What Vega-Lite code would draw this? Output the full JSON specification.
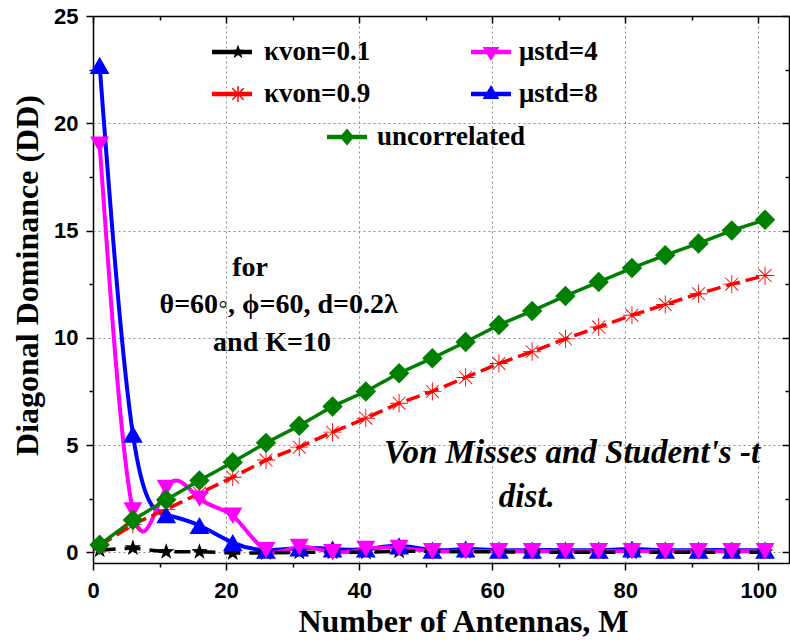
{
  "$schema": "https://vega.github.io/schema/vega-lite/v6.json",
  "width": 696,
  "height": 547,
  "autosize": {"type": "none"},
  "padding": {"left": 93, "top": 16, "right": 1, "bottom": 77},
  "background": "white",
  "config": {"view": {"stroke": null}},
  "datasets": {
    "curves": [
      {"series":"κvon=0.1","M":1,"DD":0.1},{"series":"κvon=0.1","M":6,"DD":0.2},{"series":"κvon=0.1","M":11,"DD":0.02},{"series":"κvon=0.1","M":16,"DD":0.02},{"series":"κvon=0.1","M":21,"DD":-0.03},{"series":"κvon=0.1","M":26,"DD":-0.03},{"series":"κvon=0.1","M":31,"DD":0},{"series":"κvon=0.1","M":36,"DD":0},{"series":"κvon=0.1","M":41,"DD":0},{"series":"κvon=0.1","M":46,"DD":0.05},{"series":"κvon=0.1","M":51,"DD":0.05},{"series":"κvon=0.1","M":56,"DD":0.02},{"series":"κvon=0.1","M":61,"DD":0.02},{"series":"κvon=0.1","M":66,"DD":0},{"series":"κvon=0.1","M":71,"DD":0},{"series":"κvon=0.1","M":76,"DD":0},{"series":"κvon=0.1","M":81,"DD":0},{"series":"κvon=0.1","M":86,"DD":0},{"series":"κvon=0.1","M":91,"DD":0},{"series":"κvon=0.1","M":96,"DD":0},{"series":"κvon=0.1","M":101,"DD":0},
      {"series":"κvon=0.9","M":1,"DD":0.3},{"series":"κvon=0.9","M":6,"DD":1.3},{"series":"κvon=0.9","M":11,"DD":2.0},{"series":"κvon=0.9","M":16,"DD":2.75},{"series":"κvon=0.9","M":21,"DD":3.5},{"series":"κvon=0.9","M":26,"DD":4.3},{"series":"κvon=0.9","M":31,"DD":4.9},{"series":"κvon=0.9","M":36,"DD":5.6},{"series":"κvon=0.9","M":41,"DD":6.25},{"series":"κvon=0.9","M":46,"DD":6.95},{"series":"κvon=0.9","M":51,"DD":7.5},{"series":"κvon=0.9","M":56,"DD":8.15},{"series":"κvon=0.9","M":61,"DD":8.8},{"series":"κvon=0.9","M":66,"DD":9.35},{"series":"κvon=0.9","M":71,"DD":9.95},{"series":"κvon=0.9","M":76,"DD":10.5},{"series":"κvon=0.9","M":81,"DD":11.05},{"series":"κvon=0.9","M":86,"DD":11.55},{"series":"κvon=0.9","M":91,"DD":12.05},{"series":"κvon=0.9","M":96,"DD":12.5},{"series":"κvon=0.9","M":101,"DD":12.9},
      {"series":"μstd=8","M":1,"DD":22.7},{"series":"μstd=8","M":6,"DD":5.5},{"series":"μstd=8","M":11,"DD":1.75},{"series":"μstd=8","M":16,"DD":1.25},{"series":"μstd=8","M":21,"DD":0.45},{"series":"μstd=8","M":26,"DD":0.1},{"series":"μstd=8","M":31,"DD":0.2},{"series":"μstd=8","M":36,"DD":0.15},{"series":"μstd=8","M":41,"DD":0.15},{"series":"μstd=8","M":46,"DD":0.3},{"series":"μstd=8","M":51,"DD":0.1},{"series":"μstd=8","M":56,"DD":0.15},{"series":"μstd=8","M":61,"DD":0.1},{"series":"μstd=8","M":66,"DD":0.1},{"series":"μstd=8","M":71,"DD":0.1},{"series":"μstd=8","M":76,"DD":0.1},{"series":"μstd=8","M":81,"DD":0.15},{"series":"μstd=8","M":86,"DD":0.1},{"series":"μstd=8","M":91,"DD":0.1},{"series":"μstd=8","M":96,"DD":0.1},{"series":"μstd=8","M":101,"DD":0.1},
      {"series":"μstd=4","M":1,"DD":19.0},{"series":"μstd=4","M":6,"DD":1.95},{"series":"μstd=4","M":11,"DD":3.0},{"series":"μstd=4","M":16,"DD":2.5},{"series":"μstd=4","M":21,"DD":1.7},{"series":"μstd=4","M":26,"DD":0.1},{"series":"μstd=4","M":31,"DD":0.25},{"series":"μstd=4","M":36,"DD":0.0},{"series":"μstd=4","M":41,"DD":0.15},{"series":"μstd=4","M":46,"DD":0.2},{"series":"μstd=4","M":51,"DD":0.05},{"series":"μstd=4","M":56,"DD":0.05},{"series":"μstd=4","M":61,"DD":0.05},{"series":"μstd=4","M":66,"DD":0.05},{"series":"μstd=4","M":71,"DD":0.05},{"series":"μstd=4","M":76,"DD":0.05},{"series":"μstd=4","M":81,"DD":0.05},{"series":"μstd=4","M":86,"DD":0.05},{"series":"μstd=4","M":91,"DD":0.05},{"series":"μstd=4","M":96,"DD":0.05},{"series":"μstd=4","M":101,"DD":0.05},
      {"series":"uncorrelated","M":1,"DD":0.35},{"series":"uncorrelated","M":6,"DD":1.5},{"series":"uncorrelated","M":11,"DD":2.45},{"series":"uncorrelated","M":16,"DD":3.35},{"series":"uncorrelated","M":21,"DD":4.2},{"series":"uncorrelated","M":26,"DD":5.1},{"series":"uncorrelated","M":31,"DD":5.9},{"series":"uncorrelated","M":36,"DD":6.8},{"series":"uncorrelated","M":41,"DD":7.5},{"series":"uncorrelated","M":46,"DD":8.35},{"series":"uncorrelated","M":51,"DD":9.05},{"series":"uncorrelated","M":56,"DD":9.8},{"series":"uncorrelated","M":61,"DD":10.6},{"series":"uncorrelated","M":66,"DD":11.25},{"series":"uncorrelated","M":71,"DD":11.95},{"series":"uncorrelated","M":76,"DD":12.6},{"series":"uncorrelated","M":81,"DD":13.25},{"series":"uncorrelated","M":86,"DD":13.85},{"series":"uncorrelated","M":91,"DD":14.4},{"series":"uncorrelated","M":96,"DD":15.0},{"series":"uncorrelated","M":101,"DD":15.5}
    ],
    "notes": [
      {"t": "for", "x": 23.6, "y": 13.25},
      {"t": "θ=60◦, ϕ=60, d=0.2λ", "x": 27.9, "y": 11.52},
      {"t": "and K=10", "x": 26.9, "y": 9.75}
    ],
    "notes2": [
      {"t": "Von Misses and  Student's -t", "x": 72.0, "y": 4.62},
      {"t": "dist.", "x": 65.2, "y": 2.57}
    ]
  },
  "layer": [
    {
      "data": {"name": "curves"},
      "transform": [{"filter": {"field": "series", "oneOf": ["μstd=4", "μstd=8"]}}],
      "mark": {"type": "line", "interpolate": "natural", "strokeWidth": 4},
      "encoding": {
        "x": {"field": "M", "type": "quantitative", "scale": {"domain": [0, 104.6], "nice": false, "zero": false},
          "axis": {"orient": "bottom", "values": [0,10,20,30,40,50,60,70,80,90,100],
            "labelExpr": "datum.value % 20 === 0 ? datum.label : ''",
            "tickSize": {"condition": {"test": "datum.value % 20 !== 0", "value": 4}, "value": 7},
            "tickColor": "black", "tickWidth": 1.5, "domainColor": "black", "domainWidth": 1.5,
            "labelFont": "Liberation Sans", "labelFontSize": 22, "labelFontWeight": "bold", "labelColor": "black",
            "labelPadding": 10, "labelFlush": false, "labelOverlap": false,
            "grid": true, "gridColor": "#8c8c8c", "gridDash": [2, 3], "gridWidth": 1,
            "gridOpacity": {"condition": {"test": "datum.value % 20 !== 0", "value": 0}, "value": 1},
            "title": "Number of Antennas, M", "titleFont": "Liberation Serif", "titleFontSize": 32, "titleFontWeight": "bold",
            "titleColor": "black", "titleX": 370, "titleY": 68, "titleBaseline": "alphabetic", "titleAlign": "center"}},
        "y": {"field": "DD", "type": "quantitative", "scale": {"domain": [-0.5, 25], "nice": false, "zero": false},
          "axis": {"orient": "left", "values": [0,2.5,5,7.5,10,12.5,15,17.5,20,22.5,25],
            "labelExpr": "datum.value % 5 === 0 ? datum.label : ''",
            "tickSize": {"condition": {"test": "datum.value % 5 !== 0", "value": 4}, "value": 7},
            "tickColor": "black", "tickWidth": 1.5, "domainColor": "black", "domainWidth": 1.5,
            "labelFont": "Liberation Sans", "labelFontSize": 22, "labelFontWeight": "bold", "labelColor": "black",
            "labelPadding": 8, "labelFlush": false, "labelOverlap": false,
            "grid": true, "gridColor": "#8c8c8c", "gridDash": [2, 3], "gridWidth": 1,
            "gridOpacity": {"condition": {"test": "datum.value % 5 !== 0", "value": 0}, "value": 1},
            "title": "Diagonal Dominance (DD)", "titleFont": "Liberation Serif", "titleFontSize": 32, "titleFontWeight": "bold",
            "titleColor": "black", "titleX": -56, "titleY": 259, "titleAngle": 270, "titleBaseline": "alphabetic", "titleAlign": "center"}},
        "color": {"field": "series", "type": "nominal",
          "scale": {"domain": ["κvon=0.1", "κvon=0.9", "μstd=4", "μstd=8", "uncorrelated"], "range": ["#000000", "#ff0000", "#ff00ff", "#0000ff", "#008000"]},
          "legend": null}
      }
    },
    {
      "data": {"name": "curves"},
      "transform": [{"filter": {"field": "series", "oneOf": ["κvon=0.1", "κvon=0.9", "uncorrelated"]}}],
      "mark": {"type": "line", "strokeWidth": 3.5},
      "encoding": {
        "x": {"field": "M", "type": "quantitative", "scale": {"domain": [0, 104.6], "nice": false, "zero": false},
          "axis": {"orient": "top", "values": [0,10,20,30,40,50,60,70,80,90,100], "labels": false, "title": null, "grid": false,
            "tickSize": {"condition": {"test": "datum.value % 20 !== 0", "value": -4}, "value": -7},
            "tickColor": "black", "tickWidth": 1.5, "domainColor": "black", "domainWidth": 1.5}},
        "y": {"field": "DD", "type": "quantitative", "scale": {"domain": [-0.5, 25], "nice": false, "zero": false},
          "axis": {"orient": "right", "values": [0,2.5,5,7.5,10,12.5,15,17.5,20,22.5,25], "labels": false, "title": null, "grid": false,
            "tickSize": {"condition": {"test": "datum.value % 5 !== 0", "value": -4}, "value": -7},
            "tickColor": "black", "tickWidth": 1.5, "domainColor": "black", "domainWidth": 1.5}},
        "color": {"field": "series", "type": "nominal",
          "scale": {"domain": ["κvon=0.1", "κvon=0.9", "μstd=4", "μstd=8", "uncorrelated"], "range": ["#000000", "#ff0000", "#ff00ff", "#0000ff", "#008000"]},
          "legend": null},
        "strokeDash": {"field": "series", "type": "nominal",
          "scale": {"domain": ["κvon=0.1", "κvon=0.9", "uncorrelated"], "range": [[16, 9], [14, 6], [1, 0]]},
          "legend": null}
      }
    },
    {
      "data": {"name": "curves"},
      "mark": {"type": "point", "filled": true, "opacity": 1},
      "encoding": {
        "x": {"field": "M", "type": "quantitative", "scale": {"domain": [0, 104.6], "nice": false, "zero": false}, "axis": null},
        "y": {"field": "DD", "type": "quantitative", "scale": {"domain": [-0.5, 25], "nice": false, "zero": false}, "axis": null},
        "color": {"field": "series", "type": "nominal",
          "scale": {"domain": ["κvon=0.1", "κvon=0.9", "μstd=4", "μstd=8", "uncorrelated"], "range": ["#000000", "#ff0000", "#ff00ff", "#0000ff", "#008000"]},
          "legend": null},
        "shape": {"field": "series", "type": "nominal",
          "scale": {"domain": ["κvon=0.1", "κvon=0.9", "μstd=4", "μstd=8", "uncorrelated"],
            "range": [
              "M0,-1L0.235,-0.324L0.951,-0.309L0.38,0.124L0.588,0.809L0,0.4L-0.588,0.809L-0.38,0.124L-0.951,-0.309L-0.235,-0.324Z",
              "M-1,-0.05L1,-0.05L1,0.05L-1,0.05ZM-0.05,-1L0.05,-1L0.05,1L-0.05,1ZM0.672,0.742L-0.742,-0.672L-0.672,-0.742L0.742,0.672ZM0.742,-0.672L-0.672,0.742L-0.742,0.672L0.672,-0.742Z",
              "triangle-down", "triangle-up", "diamond"]},
          "legend": null},
        "size": {"field": "series", "type": "nominal",
          "scale": {"domain": ["κvon=0.1", "κvon=0.9", "μstd=4", "μstd=8", "uncorrelated"], "range": [300, 420, 290, 290, 310]},
          "legend": null}
      }
    },
    {
      "data": {"name": "curves"},
      "transform": [{"filter": "datum.M < -1000"}],
      "mark": {"type": "point", "filled": true, "opacity": 1},
      "encoding": {
        "color": {"field": "series", "type": "nominal",
          "scale": {"domain": ["κvon=0.1", "κvon=0.9", "μstd=4", "μstd=8", "uncorrelated"], "range": ["#000000", "#ff0000", "#ff00ff", "#0000ff", "#008000"]},
          "legend": {"values": ["κvon=0.1", "κvon=0.9"], "orient": "none", "direction": "vertical", "legendX": 119, "legendY": 16,
            "rowPadding": 9, "title": null, "symbolSize": 1600, "symbolStrokeWidth": 0, "symbolOpacity": 1,
            "labelFont": "Liberation Serif", "labelFontSize": 27, "labelFontWeight": "bold", "labelColor": "black",
            "labelOffset": 12, "labelLimit": 0, "padding": 0}},
        "shape": {"field": "series", "type": "nominal",
          "scale": {"domain": ["κvon=0.1", "κvon=0.9", "μstd=4", "μstd=8", "uncorrelated"],
            "range": [
              "M-1,-0.11L1,-0.11L1,0.11L-1,0.11ZM0.3,-0.38L0.389,-0.123L0.661,-0.117L0.444,0.047L0.523,0.307L0.3,0.152L0.077,0.307L0.156,0.047L-0.061,-0.117L0.211,-0.123Z",
              "M-1,-0.11L1,-0.11L1,0.11L-1,0.11ZM0.2625,-0.4L0.3375,-0.4L0.3375,0.4L0.2625,0.4ZM0.5565,0.3095L-0.0095,-0.2565L0.0435,-0.3095L0.6095,0.2565ZM0.6095,-0.2565L0.0435,0.3095L-0.0095,0.2565L0.5565,-0.3095Z",
              "M-1,-0.11L1,-0.11L1,0.11L-1,0.11ZM-0.42,-0.25L0.42,-0.25L0,0.45Z",
              "M-1,-0.11L1,-0.11L1,0.11L-1,0.11ZM0,-0.45L0.42,0.25L-0.42,0.25Z",
              "M-1,-0.11L1,-0.11L1,0.11L-1,0.11ZM0,-0.42L0.36,0L0,0.42L-0.36,0Z"]},
          "legend": {"values": ["κvon=0.1", "κvon=0.9"], "orient": "none", "direction": "vertical", "legendX": 119, "legendY": 16,
            "rowPadding": 9, "title": null, "symbolSize": 1600, "symbolStrokeWidth": 0, "symbolOpacity": 1,
            "labelFont": "Liberation Serif", "labelFontSize": 27, "labelFontWeight": "bold", "labelColor": "black",
            "labelOffset": 12, "labelLimit": 0, "padding": 0}}
      }
    },
    {
      "data": {"name": "curves"},
      "transform": [{"filter": "datum.M < -1000"}],
      "mark": {"type": "point", "filled": true, "opacity": 1},
      "encoding": {
        "color": {"field": "series", "type": "nominal",
          "scale": {"domain": ["κvon=0.1", "κvon=0.9", "μstd=4", "μstd=8", "uncorrelated"], "range": ["#000000", "#ff0000", "#ff00ff", "#0000ff", "#008000"]},
          "legend": {"values": ["μstd=4", "μstd=8"], "orient": "none", "direction": "vertical", "legendX": 378, "legendY": 16,
            "rowPadding": 9, "title": null, "symbolSize": 1600, "symbolStrokeWidth": 0, "symbolOpacity": 1,
            "labelFont": "Liberation Serif", "labelFontSize": 27, "labelFontWeight": "bold", "labelColor": "black",
            "labelOffset": 8, "labelLimit": 0, "padding": 0}},
        "shape": {"field": "series", "type": "nominal",
          "scale": {"domain": ["κvon=0.1", "κvon=0.9", "μstd=4", "μstd=8", "uncorrelated"],
            "range": [
              "M-1,-0.11L1,-0.11L1,0.11L-1,0.11ZM0.3,-0.38L0.389,-0.123L0.661,-0.117L0.444,0.047L0.523,0.307L0.3,0.152L0.077,0.307L0.156,0.047L-0.061,-0.117L0.211,-0.123Z",
              "M-1,-0.11L1,-0.11L1,0.11L-1,0.11ZM0.2625,-0.4L0.3375,-0.4L0.3375,0.4L0.2625,0.4ZM0.5565,0.3095L-0.0095,-0.2565L0.0435,-0.3095L0.6095,0.2565ZM0.6095,-0.2565L0.0435,0.3095L-0.0095,0.2565L0.5565,-0.3095Z",
              "M-1,-0.11L1,-0.11L1,0.11L-1,0.11ZM-0.42,-0.25L0.42,-0.25L0,0.45Z",
              "M-1,-0.11L1,-0.11L1,0.11L-1,0.11ZM0,-0.45L0.42,0.25L-0.42,0.25Z",
              "M-1,-0.11L1,-0.11L1,0.11L-1,0.11ZM0,-0.42L0.36,0L0,0.42L-0.36,0Z"]},
          "legend": {"values": ["μstd=4", "μstd=8"], "orient": "none", "direction": "vertical", "legendX": 378, "legendY": 16,
            "rowPadding": 9, "title": null, "symbolSize": 1600, "symbolStrokeWidth": 0, "symbolOpacity": 1,
            "labelFont": "Liberation Serif", "labelFontSize": 27, "labelFontWeight": "bold", "labelColor": "black",
            "labelOffset": 8, "labelLimit": 0, "padding": 0}}
      }
    },
    {
      "data": {"name": "curves"},
      "transform": [{"filter": "datum.M < -1000"}],
      "mark": {"type": "point", "filled": true, "opacity": 1},
      "encoding": {
        "color": {"field": "series", "type": "nominal",
          "scale": {"domain": ["κvon=0.1", "κvon=0.9", "μstd=4", "μstd=8", "uncorrelated"], "range": ["#000000", "#ff0000", "#ff00ff", "#0000ff", "#008000"]},
          "legend": {"values": ["uncorrelated"], "orient": "none", "legendX": 234, "legendY": 101,
            "title": null, "symbolSize": 1600, "symbolStrokeWidth": 0, "symbolOpacity": 1,
            "labelFont": "Liberation Serif", "labelFontSize": 27, "labelFontWeight": "bold", "labelColor": "black",
            "labelOffset": 10, "labelLimit": 0, "padding": 0}},
        "shape": {"field": "series", "type": "nominal",
          "scale": {"domain": ["κvon=0.1", "κvon=0.9", "μstd=4", "μstd=8", "uncorrelated"],
            "range": [
              "M-1,-0.11L1,-0.11L1,0.11L-1,0.11ZM0.3,-0.38L0.389,-0.123L0.661,-0.117L0.444,0.047L0.523,0.307L0.3,0.152L0.077,0.307L0.156,0.047L-0.061,-0.117L0.211,-0.123Z",
              "M-1,-0.11L1,-0.11L1,0.11L-1,0.11ZM0.2625,-0.4L0.3375,-0.4L0.3375,0.4L0.2625,0.4ZM0.5565,0.3095L-0.0095,-0.2565L0.0435,-0.3095L0.6095,0.2565ZM0.6095,-0.2565L0.0435,0.3095L-0.0095,0.2565L0.5565,-0.3095Z",
              "M-1,-0.11L1,-0.11L1,0.11L-1,0.11ZM-0.42,-0.25L0.42,-0.25L0,0.45Z",
              "M-1,-0.11L1,-0.11L1,0.11L-1,0.11ZM0,-0.45L0.42,0.25L-0.42,0.25Z",
              "M-1,-0.11L1,-0.11L1,0.11L-1,0.11ZM0,-0.42L0.36,0L0,0.42L-0.36,0Z"]},
          "legend": {"values": ["uncorrelated"], "orient": "none", "legendX": 234, "legendY": 101,
            "title": null, "symbolSize": 1600, "symbolStrokeWidth": 0, "symbolOpacity": 1,
            "labelFont": "Liberation Serif", "labelFontSize": 27, "labelFontWeight": "bold", "labelColor": "black",
            "labelOffset": 10, "labelLimit": 0, "padding": 0}}
      }
    },
    {
      "data": {"name": "notes"},
      "mark": {"type": "text", "font": "Liberation Serif", "fontSize": 28, "fontWeight": "bold", "align": "center", "baseline": "middle", "color": "black"},
      "encoding": {
        "x": {"field": "x", "type": "quantitative", "scale": {"domain": [0, 104.6], "nice": false, "zero": false}, "axis": null},
        "y": {"field": "y", "type": "quantitative", "scale": {"domain": [-0.5, 25], "nice": false, "zero": false}, "axis": null},
        "text": {"field": "t", "type": "nominal"}
      }
    },
    {
      "data": {"name": "notes2"},
      "mark": {"type": "text", "font": "Liberation Serif", "fontSize": 33, "fontWeight": "bold", "fontStyle": "italic", "align": "center", "baseline": "middle", "color": "black"},
      "encoding": {
        "x": {"field": "x", "type": "quantitative", "scale": {"domain": [0, 104.6], "nice": false, "zero": false}, "axis": null},
        "y": {"field": "y", "type": "quantitative", "scale": {"domain": [-0.5, 25], "nice": false, "zero": false}, "axis": null},
        "text": {"field": "t", "type": "nominal"}
      }
    }
  ],
  "resolve": {
    "scale": {"shape": "independent"},
    "axis": {"x": "independent", "y": "independent"},
    "legend": {"color": "independent", "shape": "independent"}
  }
}
